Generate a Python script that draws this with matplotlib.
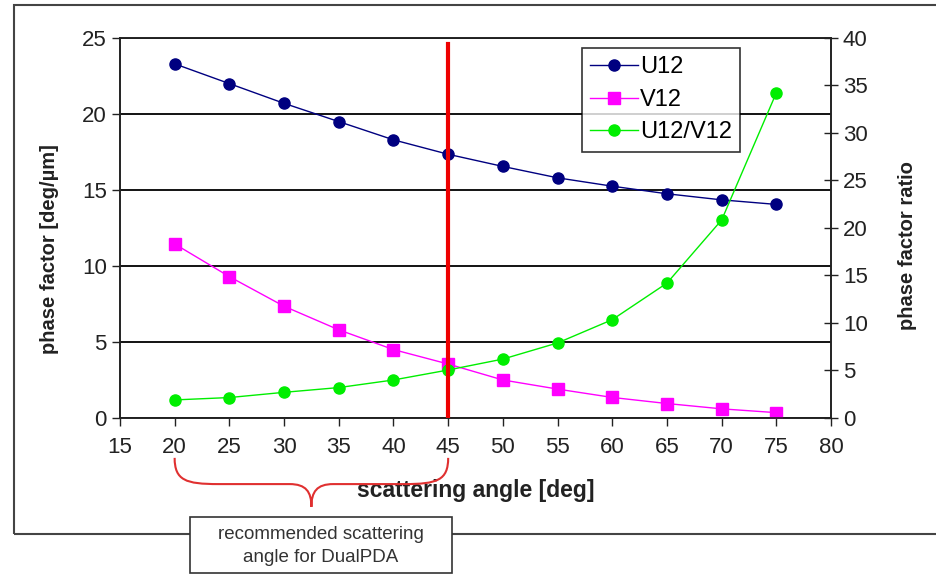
import matplotlib
matplotlib.use('Agg')
import matplotlib.pyplot as plt
from matplotlib.path import Path
from matplotlib.patches import PathPatch, Rectangle
import matplotlib.transforms as mtransforms

plt.rcParams['font.family'] = ['Liberation Sans', 'DejaVu Sans']

# ============================================================================
# DONNEES
# ============================================================================
angles = [20, 25, 30, 35, 40, 45, 50, 55, 60, 65, 70, 75]
u12 = [23.3, 22.0, 20.7, 19.5, 18.3, 17.35, 16.55, 15.8, 15.25, 14.75, 14.35, 14.05]
v12 = [11.45, 9.3, 7.35, 5.8, 4.5, 3.55, 2.5, 1.9, 1.35, 0.95, 0.6, 0.35]
ratio = [1.9, 2.15, 2.7, 3.2, 4.0, 5.05, 6.2, 7.9, 10.35, 14.2, 20.85, 34.25]

angle_recommande = 45
plage_recommandee = (20, 45)

# ============================================================================
# FIGURE
# ============================================================================
fig = plt.figure(figsize=(9.37, 5.81), dpi=100)
ax = fig.add_axes([0.128, 0.2806, 0.759, 0.654])
ax2 = ax.twinx()

ax.plot(angles, u12, color='#000080', marker='o', markersize=8, lw=1, label='U12', zorder=3)
ax.plot(angles, v12, color='#ff00ff', marker='s', markersize=8, lw=1, label='V12', zorder=3)
ax2.plot(angles, ratio, color='#00ee00', marker='o', markersize=8, lw=1, label='U12/V12', zorder=3)

# ligne rouge verticale
ax2.plot([angle_recommande, angle_recommande], [0, 39.4], color='#ee0000', lw=3, zorder=5)

ax.set_xlim(15, 80)
ax.set_ylim(0, 25)
ax2.set_ylim(0, 40)
ax.set_xticks(range(15, 81, 5))
ax.set_yticks(range(0, 26, 5))
ax2.set_yticks(range(0, 41, 5))

ax.yaxis.grid(True, color='black', lw=1.3)
ax.set_axisbelow(True)

ax.tick_params(axis='both', labelsize=16, colors='#222222', direction='out', length=6, width=1)
ax.tick_params(axis='x', pad=8)
ax2.tick_params(axis='y', labelsize=16, colors='#222222', direction='inout', length=10, width=1)

for a in (ax, ax2):
    for s in a.spines.values():
        s.set_color('#222222')
        s.set_linewidth(1.2)

ax.set_xlabel('scattering angle [deg]', fontsize=16.5, fontweight='bold', color='#222222', labelpad=15)
ax.set_ylabel('phase factor [deg/µm]', fontsize=14.5, fontweight='bold', color='#222222')
ax2.set_ylabel('phase factor ratio', fontsize=14.5, fontweight='bold', color='#222222')
ax.yaxis.set_label_coords(-0.086, 0.445)
ax2.yaxis.set_label_coords(1.094, 0.455)

# legende
h1, l1 = ax.get_legend_handles_labels()
h2, l2 = ax2.get_legend_handles_labels()
leg = ax2.legend(h1 + h2, l1 + l2, loc='upper left', bbox_to_anchor=(0.65, 0.974),
                 fontsize=17, frameon=True, fancybox=False, borderpad=0.35,
                 handlelength=2.0, handletextpad=0.1, labelspacing=0.45, borderaxespad=0)
leg.get_frame().set_edgecolor('black')
leg.get_frame().set_linewidth(1.2)

# accolade rouge sous l'axe x
trans = mtransforms.blended_transform_factory(ax.transData, ax.transAxes)
x0, x1 = plage_recommandee
xm = (x0 + x1) / 2
y_haut, y_mil, y_pointe = -0.105, -0.174, -0.234
verts = [
    (x0, y_haut), (x0, y_mil + 0.01), (x0 + 1, y_mil), (x0 + 4, y_mil),
    (xm - 2, y_mil),
    (xm - 0.5, y_mil), (xm, y_mil - 0.02), (xm, y_pointe),
    (xm, y_mil - 0.02), (xm + 0.5, y_mil), (xm + 2, y_mil),
    (x1 - 4, y_mil),
    (x1 - 1, y_mil), (x1, y_mil + 0.01), (x1, y_haut),
]
codes = [Path.MOVETO, Path.CURVE4, Path.CURVE4, Path.CURVE4,
         Path.LINETO,
         Path.CURVE4, Path.CURVE4, Path.CURVE4,
         Path.CURVE4, Path.CURVE4, Path.CURVE4,
         Path.LINETO,
         Path.CURVE4, Path.CURVE4, Path.CURVE4]
brace = PathPatch(Path(verts, codes), transform=trans, fill=False,
                  edgecolor='#e03030', lw=1.5, clip_on=False)
ax.add_patch(brace)

# cadre exterieur
cadre = Rectangle((14 / 937, 1 - 534 / 581), 1.0, (534 - 5) / 581,
                  transform=fig.transFigure, fill=False, edgecolor='#444444', lw=1.5,
                  zorder=0)
fig.patches.append(cadre)

# boite d'annotation
boite = Rectangle((190 / 937, 1 - 573 / 581), 262 / 937, 56 / 581,
                  transform=fig.transFigure, facecolor='white', edgecolor='#333333',
                  lw=1.2, zorder=2)
fig.patches.append(boite)
fig.text(321 / 937, 1 - 546 / 581, 'recommended scattering\nangle for DualPDA',
         ha='center', va='center', fontsize=13.5, color='#333333',
         linespacing=1.4, zorder=3)

plt.savefig('out.png', dpi=100)
